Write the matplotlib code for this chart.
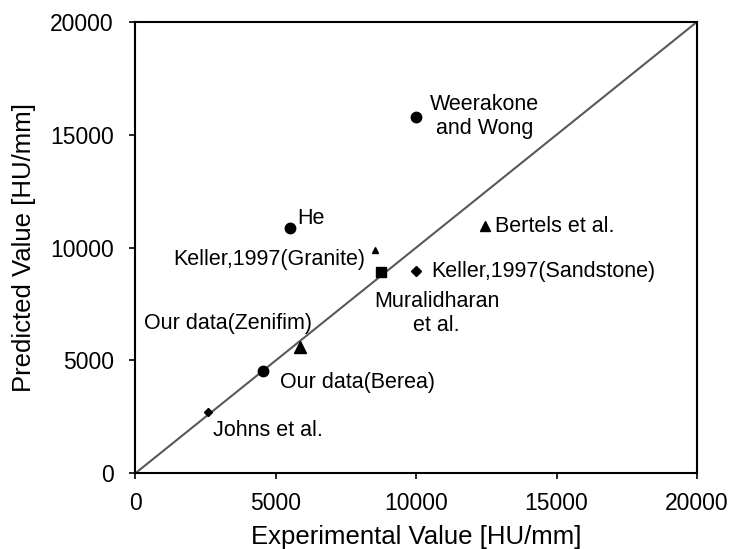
import numpy as np
import matplotlib.pyplot as plt

plt.rcParams['font.family'] = ['Liberation Sans', 'DejaVu Sans']

# points
names = ['Weerakone\nand Wong', 'He', 'Keller,1997(Granite)', 'Muralidharan\net al.',
         'Keller,1997(Sandstone)', 'Bertels et al.', 'Our data(Zenifim)',
         'Our data(Berea)', 'Johns et al.']
exp_vals = [10000, 5500, 8550, 8750, 10000, 12450, 5870, 4550, 2600]
pred_vals = [15800, 10850, 9900, 8900, 8950, 10950, 5600, 4530, 2700]
markers = ['o', 'o', '^', 's', 'D', '^', '^', 'o', 'D']
msizes = [7.5, 7.5, 5, 7, 5, 6.5, 8, 7.5, 4.5]

# label offsets in points
offsets = [(10, 0), (5, 7), (-7, -7), (40, -29.5), (11, 0), (7, 0), (8.6, 17), (12, -8), (3, -13)]
aligns = [('left', 'center'), ('left', 'center'), ('right', 'center'), ('center', 'center'),
          ('left', 'center'), ('left', 'center'), ('right', 'center'), ('left', 'center'),
          ('left', 'center')]

fig, ax = plt.subplots(figsize=(7.32, 5.49), dpi=100)
fig.subplots_adjust(left=0.185, right=0.952, top=0.96, bottom=0.138)

ax.plot([0, 20000], [0, 20000], color='#595959', lw=1.5, zorder=1)

for i in range(len(names)):
    ax.plot(exp_vals[i], pred_vals[i], marker=markers[i], ms=msizes[i], color='black',
            linestyle='none', zorder=3)
    ha, va = aligns[i]
    ax.annotate(names[i], (exp_vals[i], pred_vals[i]), xytext=offsets[i],
                textcoords='offset points', ha=ha, va=va, fontsize=15.5,
                multialignment='center')

ax.set_xlim(0, 20000)
ax.set_ylim(0, 20000)
ax.set_xticks(np.arange(0, 20001, 5000))
ax.set_yticks(np.arange(0, 20001, 5000))
ax.tick_params(direction='out', length=4.5, width=1.2, labelsize=16.5)
ax.tick_params(axis='y', pad=11)
ax.tick_params(axis='x', pad=9)
for s in ax.spines.values():
    s.set_linewidth(1.5)

ax.set_xlabel('Experimental Value [HU/mm]', fontsize=18.5, labelpad=7)
ax.set_ylabel('Predicted Value [HU/mm]', fontsize=18.5, labelpad=10)

fig.savefig('out.png', dpi=100)
